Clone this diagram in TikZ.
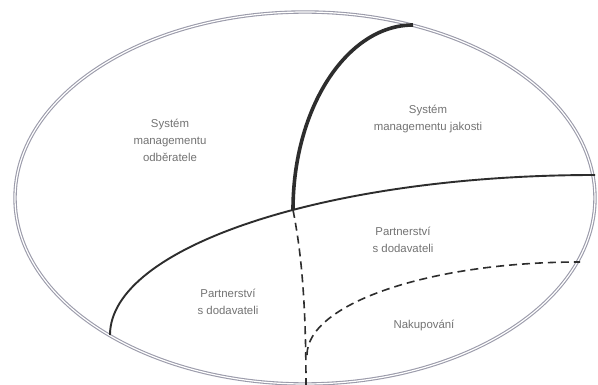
\documentclass[tikz,border=0pt]{standalone}
\usepackage{fontspec}
\setmainfont{Liberation Sans}
\definecolor{rimcol}{RGB}{155,155,170}
\definecolor{inkcol}{RGB}{45,45,45}
\definecolor{txtcol}{RGB}{115,115,115}
\tikzset{
  rim/.style={draw=rimcol, line width=1.1pt, double=white, double distance=1.2pt},
  thickarc/.style={draw=inkcol, line width=3.6pt},
  solidline/.style={draw=inkcol, line width=1.9pt},
  dashline/.style={draw=inkcol, line width=1.6pt, dash pattern=on 8pt off 5pt},
  lbl/.style={text=txtcol, align=center, font=\fontsize{11.4}{17}\selectfont, inner sep=0pt}
}
\begin{document}
\begin{tikzpicture}[x=1pt,y=-1pt]
\useasboundingbox (0,0) rectangle (598,385);
\fill[white] (0,0) rectangle (598,385);
% outer ellipse
\draw[rim] (305,198) ellipse [x radius=290, y radius=186];
% key points
\coordinate (top) at (413,25);
\coordinate (mid) at (293,210);
\coordinate (bl) at (110,335);
\coordinate (rt) at (595,175);
\coordinate (bot) at (306,386);
\coordinate (ds) at (307,355);
\coordinate (de) at (580,262);
% curves
\draw[solidline] (bl) .. controls (110,247) and (327,175) .. (rt);
\draw[thickarc] (top) .. controls (347,25) and (293,108) .. (mid);
\draw[dashline] (mid) .. controls (301,250) and (306,300) .. (bot);
\draw[dashline] (ds) .. controls (307,304) and (429,262) .. (de);
% labels
\node[lbl] (odb) at (170,140) {Systém\\managementu\\odběratele};
\node[lbl] (jak) at (428,119) {Systém\\managementu jakosti};
\node[lbl] (par1) at (403,240) {Partnerství\\s dodavateli};
\node[lbl] (par2) at (228,302) {Partnerství\\s dodavateli};
\node[lbl] (nak) at (424,325) {Nakupování};
\end{tikzpicture}
\end{document}
